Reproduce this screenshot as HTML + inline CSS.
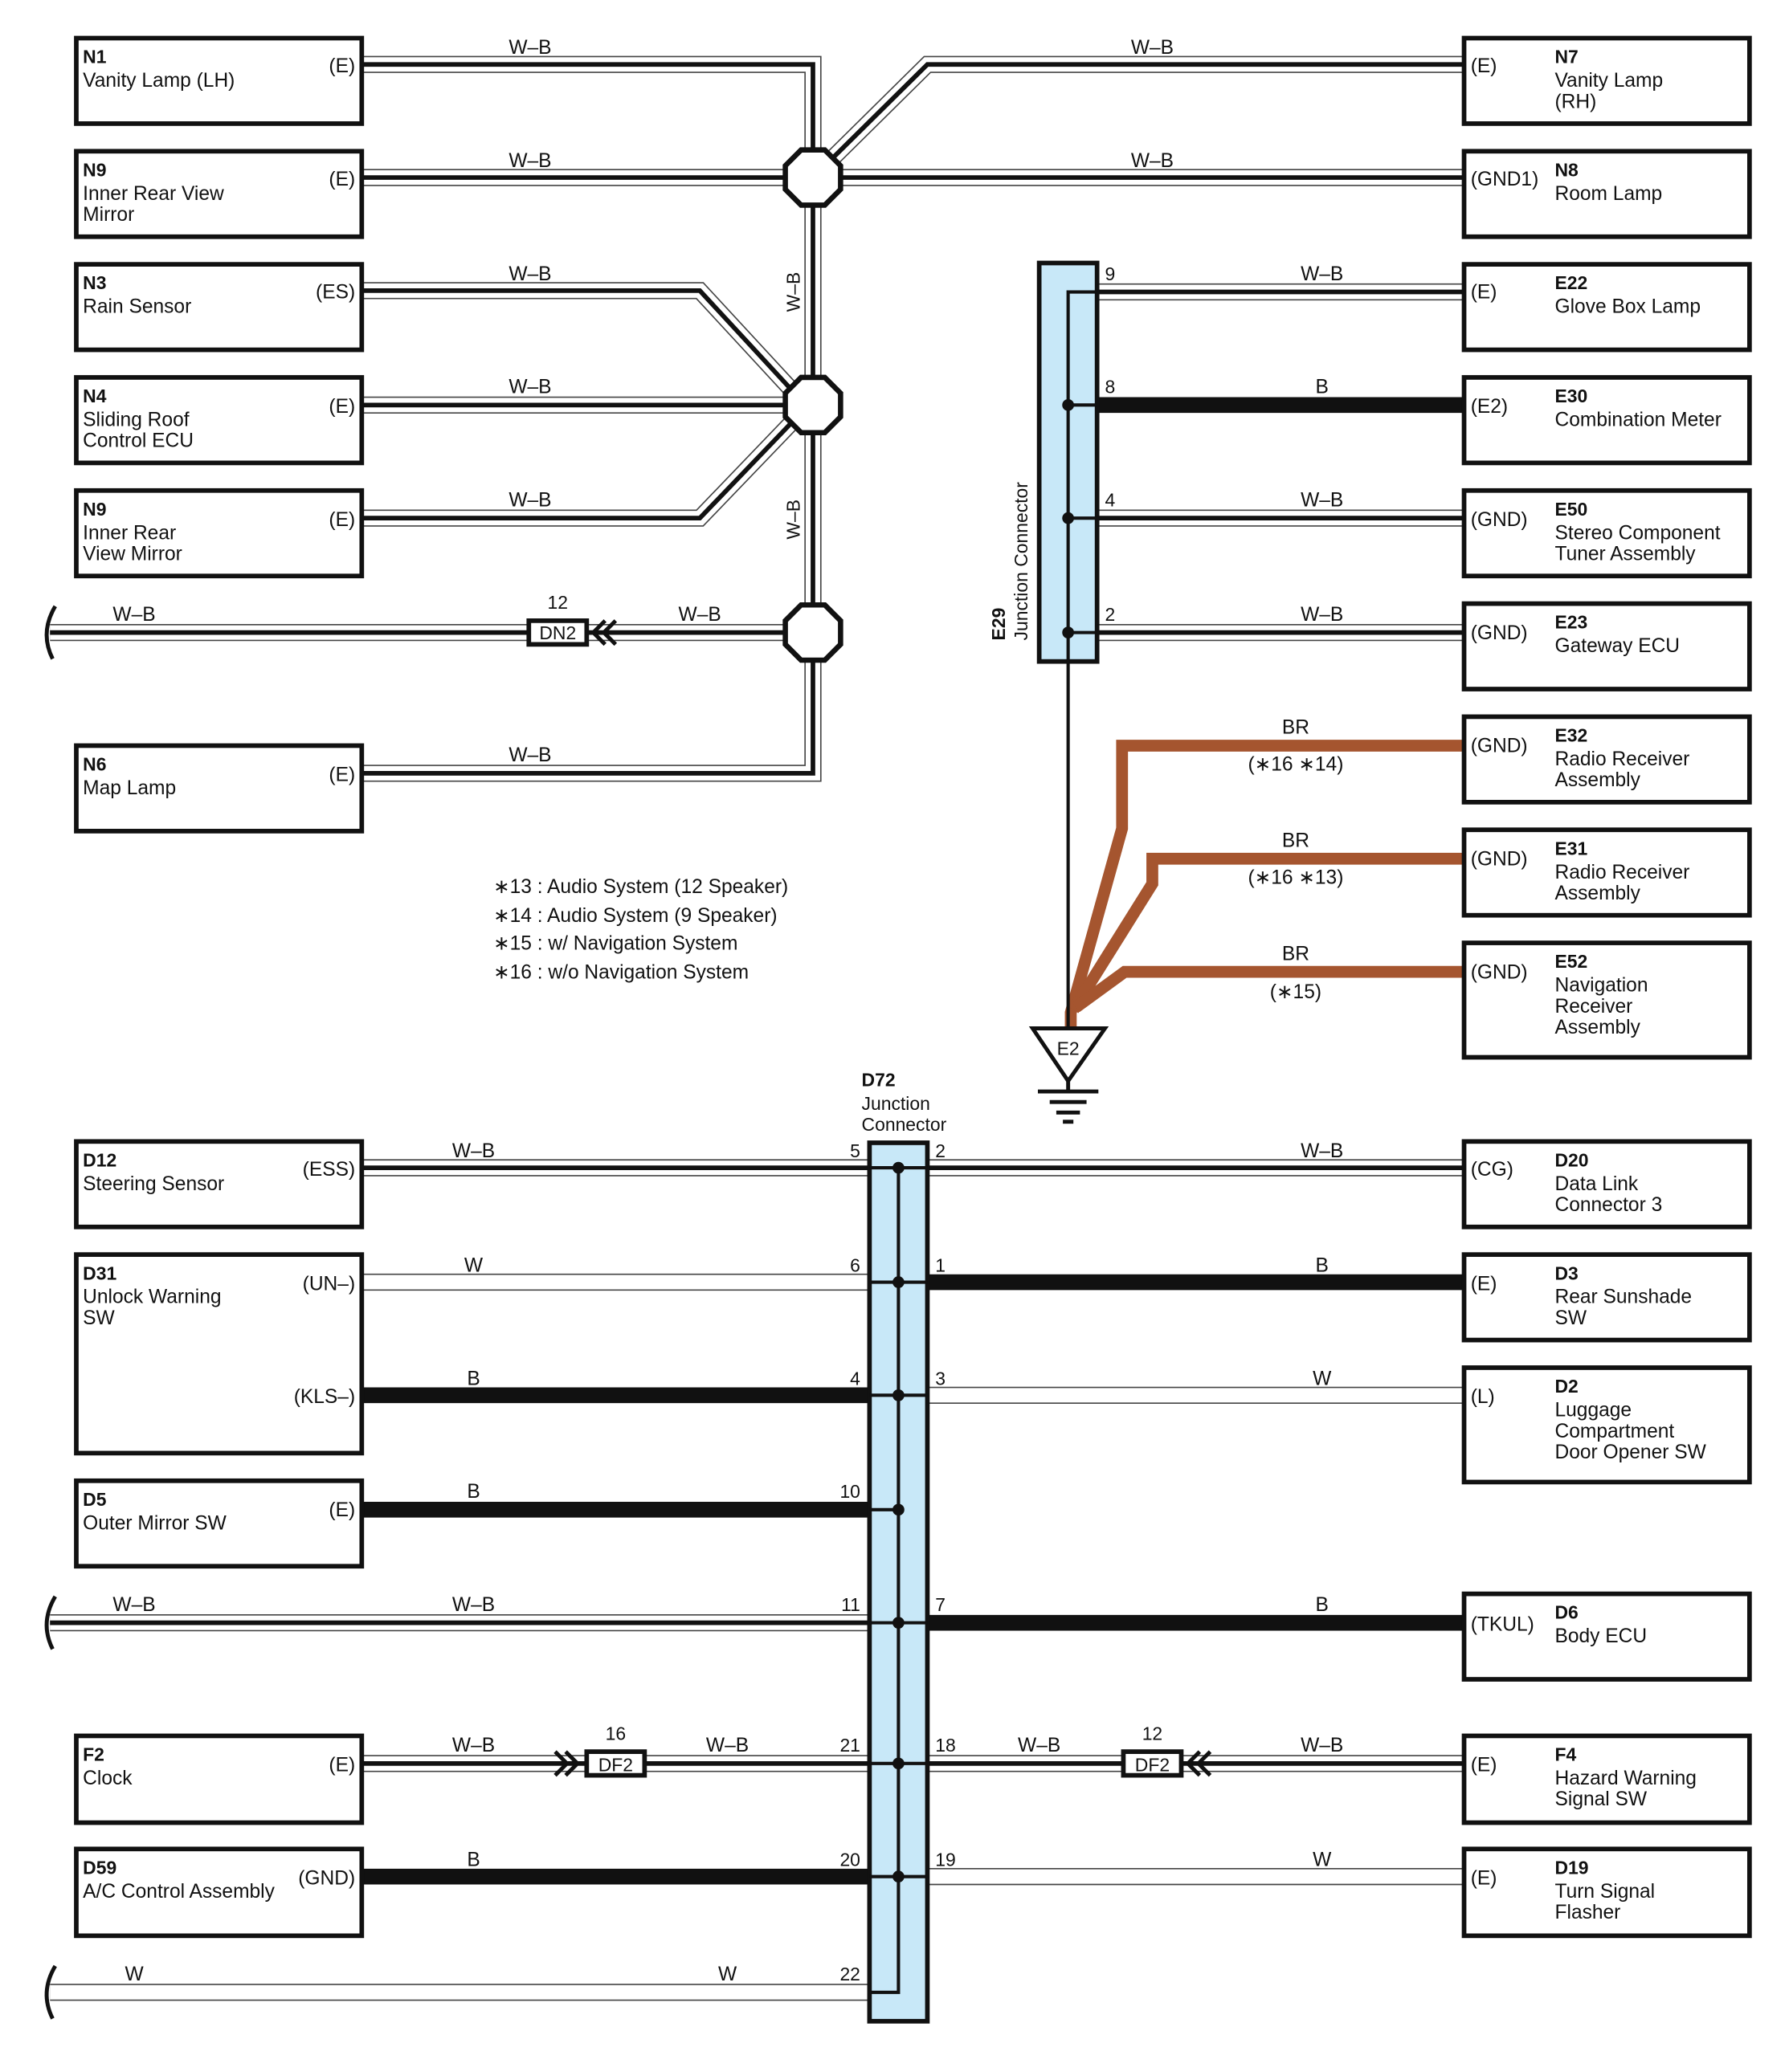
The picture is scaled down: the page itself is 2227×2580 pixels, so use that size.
<!DOCTYPE html>
<html><head><meta charset="utf-8"><style>
html,body{margin:0;padding:0;background:#fff}
svg{display:block}
text{font-family:"Liberation Sans",Arial,sans-serif;font-size:15px;fill:#111}
.b{font-weight:bold}
.m{text-anchor:middle}
.e{text-anchor:end}
.s{font-size:14px}
</style></head><body>
<svg width="2227" height="2580" viewBox="0 0 1360 1575.6" xmlns="http://www.w3.org/2000/svg">
<defs>
<g id="dummy"></g>
</defs>
<g fill="none" stroke-linejoin="miter">
<!-- W-B wires: outer -->
<g stroke="#444" stroke-width="13">
<polyline points="275,49 618,49 618,588 275,588"/>
<polyline points="275,135 618,135"/>
<polyline points="275,221 532,221 605,300"/>
<polyline points="275,308 618,308"/>
<polyline points="275,394 532,394 605,318"/>
<polyline points="618,135 705,49 1113,49"/>
<polyline points="618,135 1113,135"/>
<polyline points="38,481 618,481"/>
<polyline points="834,222 1113,222"/>
<polyline points="834,394 1113,394"/>
<polyline points="834,481 1113,481"/>
<polyline points="275,888 661,888"/>
<polyline points="705,888 1113,888"/>
<polyline points="38,1234 661,1234"/>
<polyline points="275,1341 661,1341"/>
<polyline points="705,1341 1113,1341"/>
<polyline points="275,975 661,975"/>
<polyline points="705,1061 1113,1061"/>
<polyline points="705,1427 1113,1427"/>
<polyline points="38,1515 661,1515"/>
</g>
<g stroke="#fff" stroke-width="11">
<polyline points="275,49 618,49 618,588 275,588"/>
<polyline points="275,135 618,135"/>
<polyline points="275,221 532,221 605,300"/>
<polyline points="275,308 618,308"/>
<polyline points="275,394 532,394 605,318"/>
<polyline points="618,135 705,49 1113,49"/>
<polyline points="618,135 1113,135"/>
<polyline points="38,481 618,481"/>
<polyline points="834,222 1113,222"/>
<polyline points="834,394 1113,394"/>
<polyline points="834,481 1113,481"/>
<polyline points="275,888 661,888"/>
<polyline points="705,888 1113,888"/>
<polyline points="38,1234 661,1234"/>
<polyline points="275,1341 661,1341"/>
<polyline points="705,1341 1113,1341"/>
<polyline points="275,975 661,975"/>
<polyline points="705,1061 1113,1061"/>
<polyline points="705,1427 1113,1427"/>
<polyline points="38,1515 661,1515"/>
</g>
<g stroke="#111" stroke-width="3.5">
<polyline points="275,49 618,49 618,588 275,588"/>
<polyline points="275,135 618,135"/>
<polyline points="275,221 532,221 605,300"/>
<polyline points="275,308 618,308"/>
<polyline points="275,394 532,394 605,318"/>
<polyline points="618,135 705,49 1113,49"/>
<polyline points="618,135 1113,135"/>
<polyline points="38,481 618,481"/>
<polyline points="834,222 1113,222"/>
<polyline points="834,394 1113,394"/>
<polyline points="834,481 1113,481"/>
<polyline points="275,888 661,888"/>
<polyline points="705,888 1113,888"/>
<polyline points="38,1234 661,1234"/>
<polyline points="275,1341 661,1341"/>
<polyline points="705,1341 1113,1341"/>
</g>
<!-- B wires -->
<g stroke="#111" stroke-width="12">
<line x1="834" y1="308" x2="1113" y2="308"/>
<line x1="275" y1="1061" x2="661" y2="1061"/>
<line x1="275" y1="1148" x2="661" y2="1148"/>
<line x1="275" y1="1427" x2="661" y2="1427"/>
<line x1="705" y1="975" x2="1113" y2="975"/>
<line x1="705" y1="1234" x2="1113" y2="1234"/>
</g>
<!-- BR wires -->
<g stroke="#a5552f" stroke-width="9">
<polyline points="1113,567 853,567 853,630 814,770 814,782"/>
<polyline points="1113,653 876,653 876,672 816,768"/>
<polyline points="1113,739 855,739 818,766"/>
</g>
<!-- squiggles -->
<g stroke="#111" stroke-width="3">
<path d="M42,461 Q30,481 40,501"/>
<path d="M42,1214 Q30,1234 40,1254"/>
<path d="M42,1495 Q30,1515 40,1535"/>
</g>
<!-- boxes -->
<g stroke="#111" stroke-width="3.5" fill="#fff">
<rect x="58" y="29" width="217" height="65"/>
<rect x="58" y="115" width="217" height="65"/>
<rect x="58" y="201" width="217" height="65"/>
<rect x="58" y="287" width="217" height="65"/>
<rect x="58" y="373" width="217" height="65"/>
<rect x="58" y="567" width="217" height="65"/>
<rect x="1113" y="29" width="217" height="65"/>
<rect x="1113" y="115" width="217" height="65"/>
<rect x="1113" y="201" width="217" height="65"/>
<rect x="1113" y="287" width="217" height="65"/>
<rect x="1113" y="373" width="217" height="65"/>
<rect x="1113" y="459" width="217" height="65"/>
<rect x="1113" y="545" width="217" height="65"/>
<rect x="1113" y="631" width="217" height="65"/>
<rect x="1113" y="717" width="217" height="87"/>
<rect x="58" y="868" width="217" height="65"/>
<rect x="58" y="954" width="217" height="151"/>
<rect x="58" y="1126" width="217" height="65"/>
<rect x="58" y="1320" width="217" height="66"/>
<rect x="58" y="1406" width="217" height="66"/>
<rect x="1113" y="868" width="217" height="65"/>
<rect x="1113" y="954" width="217" height="65"/>
<rect x="1113" y="1040" width="217" height="87"/>
<rect x="1113" y="1212" width="217" height="65"/>
<rect x="1113" y="1320" width="217" height="66"/>
<rect x="1113" y="1406" width="217" height="66"/>
<!-- connectors -->
<rect x="402" y="472" width="44" height="18"/>
<rect x="446" y="1332" width="44" height="18"/>
<rect x="854" y="1332" width="44" height="18"/>
</g>
<!-- chevrons -->
<g stroke="#111" stroke-width="3">
<polyline points="460,472 451,481 460,490"/><polyline points="468,472 459,481 468,490"/>
<polyline points="422,1332 431,1341 422,1350"/><polyline points="430,1332 439,1341 430,1350"/>
<polyline points="912,1332 903,1341 912,1350"/><polyline points="920,1332 911,1341 920,1350"/>
</g>
<!-- octagons -->
<g stroke="#111" stroke-width="4" fill="#fff">
<polygon points="627,114 639,126 639,144 627,156 609,156 597,144 597,126 609,114"/>
<polygon points="627,287 639,299 639,317 627,329 609,329 597,317 597,299 609,287"/>
<polygon points="627,460 639,472 639,490 627,502 609,502 597,490 597,472 609,460"/>
</g>
<!-- E29 -->
<rect x="790" y="200" width="44" height="303" fill="#c8e8f8" stroke="#111" stroke-width="3.5"/>
<g stroke="#111" stroke-width="2.5">
<polyline points="834,222 812,222 812,782"/>
<line x1="812" y1="308" x2="834" y2="308"/>
<line x1="812" y1="394" x2="834" y2="394"/>
<line x1="812" y1="481" x2="834" y2="481"/>
</g>
<g fill="#111"><circle cx="812" cy="308" r="4.5"/><circle cx="812" cy="394" r="4.5"/><circle cx="812" cy="481" r="4.5"/></g>
<!-- ground -->
<polygon points="785,782 840,782 812,822" fill="#fff" stroke="#111" stroke-width="3"/>
<g stroke="#111" stroke-width="3">
<line x1="812" y1="822" x2="812" y2="830"/>
<line x1="789" y1="830" x2="835" y2="830"/>
<line x1="798" y1="838" x2="826" y2="838"/>
<line x1="803" y1="846" x2="821" y2="846"/>
<line x1="808" y1="853" x2="816" y2="853"/>
</g>
<!-- D72 -->
<rect x="661" y="869" width="44" height="668" fill="#c8e8f8" stroke="#111" stroke-width="3.5"/>
<g stroke="#111" stroke-width="2.5">
<polyline points="683,888 683,1515 661,1515"/>
<line x1="661" y1="888" x2="705" y2="888"/>
<line x1="661" y1="975" x2="705" y2="975"/>
<line x1="661" y1="1061" x2="705" y2="1061"/>
<line x1="661" y1="1148" x2="683" y2="1148"/>
<line x1="661" y1="1234" x2="705" y2="1234"/>
<line x1="661" y1="1341" x2="705" y2="1341"/>
<line x1="661" y1="1427" x2="705" y2="1427"/>
</g>
<g fill="#111">
<circle cx="683" cy="888" r="4.5"/><circle cx="683" cy="975" r="4.5"/><circle cx="683" cy="1061" r="4.5"/><circle cx="683" cy="1148" r="4.5"/><circle cx="683" cy="1234" r="4.5"/><circle cx="683" cy="1341" r="4.5"/><circle cx="683" cy="1427" r="4.5"/>
</g>
</g>

<!-- box texts left -->
<text x="63" y="48" class="b s">N1</text><text x="63" y="66">Vanity Lamp (LH)</text><text x="270" y="55" class="e">(E)</text>
<text x="63" y="134" class="b s">N9</text><text x="63" y="152">Inner Rear View</text><text x="63" y="168">Mirror</text><text x="270" y="141" class="e">(E)</text>
<text x="63" y="220" class="b s">N3</text><text x="63" y="238">Rain Sensor</text><text x="270" y="227" class="e">(ES)</text>
<text x="63" y="306" class="b s">N4</text><text x="63" y="324">Sliding Roof</text><text x="63" y="340">Control ECU</text><text x="270" y="314" class="e">(E)</text>
<text x="63" y="392" class="b s">N9</text><text x="63" y="410">Inner Rear</text><text x="63" y="426">View Mirror</text><text x="270" y="400" class="e">(E)</text>
<text x="63" y="586" class="b s">N6</text><text x="63" y="604">Map Lamp</text><text x="270" y="594" class="e">(E)</text>
<!-- right top -->
<text x="1118" y="55">(E)</text><text x="1182" y="48" class="b s">N7</text><text x="1182" y="66">Vanity Lamp</text><text x="1182" y="82">(RH)</text>
<text x="1118" y="141">(GND1)</text><text x="1182" y="134" class="b s">N8</text><text x="1182" y="152">Room Lamp</text>
<text x="1118" y="227">(E)</text><text x="1182" y="220" class="b s">E22</text><text x="1182" y="238">Glove Box Lamp</text>
<text x="1118" y="314">(E2)</text><text x="1182" y="306" class="b s">E30</text><text x="1182" y="324">Combination Meter</text>
<text x="1118" y="400">(GND)</text><text x="1182" y="392" class="b s">E50</text><text x="1182" y="410">Stereo Component</text><text x="1182" y="426">Tuner Assembly</text>
<text x="1118" y="486">(GND)</text><text x="1182" y="478" class="b s">E23</text><text x="1182" y="496">Gateway ECU</text>
<text x="1118" y="572">(GND)</text><text x="1182" y="564" class="b s">E32</text><text x="1182" y="582">Radio Receiver</text><text x="1182" y="598">Assembly</text>
<text x="1118" y="658">(GND)</text><text x="1182" y="650" class="b s">E31</text><text x="1182" y="668">Radio Receiver</text><text x="1182" y="684">Assembly</text>
<text x="1118" y="744">(GND)</text><text x="1182" y="736" class="b s">E52</text><text x="1182" y="754">Navigation</text><text x="1182" y="770">Receiver</text><text x="1182" y="786">Assembly</text>
<!-- bottom left -->
<text x="63" y="887" class="b s">D12</text><text x="63" y="905">Steering Sensor</text><text x="270" y="894" class="e">(ESS)</text>
<text x="63" y="973" class="b s">D31</text><text x="63" y="991">Unlock Warning</text><text x="63" y="1007">SW</text><text x="270" y="981" class="e">(UN–)</text><text x="270" y="1067" class="e">(KLS–)</text>
<text x="63" y="1145" class="b s">D5</text><text x="63" y="1163">Outer Mirror SW</text><text x="270" y="1153" class="e">(E)</text>
<text x="63" y="1339" class="b s">F2</text><text x="63" y="1357">Clock</text><text x="270" y="1347" class="e">(E)</text>
<text x="63" y="1425" class="b s">D59</text><text x="63" y="1443">A/C Control Assembly</text><text x="270" y="1433" class="e">(GND)</text>
<!-- bottom right -->
<text x="1118" y="894">(CG)</text><text x="1182" y="887" class="b s">D20</text><text x="1182" y="905">Data Link</text><text x="1182" y="921">Connector 3</text>
<text x="1118" y="981">(E)</text><text x="1182" y="973" class="b s">D3</text><text x="1182" y="991">Rear Sunshade</text><text x="1182" y="1007">SW</text>
<text x="1118" y="1067">(L)</text><text x="1182" y="1059" class="b s">D2</text><text x="1182" y="1077">Luggage</text><text x="1182" y="1093">Compartment</text><text x="1182" y="1109">Door Opener SW</text>
<text x="1118" y="1240">(TKUL)</text><text x="1182" y="1231" class="b s">D6</text><text x="1182" y="1249">Body ECU</text>
<text x="1118" y="1347">(E)</text><text x="1182" y="1339" class="b s">F4</text><text x="1182" y="1357">Hazard Warning</text><text x="1182" y="1373">Signal SW</text>
<text x="1118" y="1433">(E)</text><text x="1182" y="1425" class="b s">D19</text><text x="1182" y="1443">Turn Signal</text><text x="1182" y="1459">Flasher</text>

<!-- wire labels -->
<g class="m">
<text x="403" y="41" class="m">W–B</text><text x="403" y="127" class="m">W–B</text><text x="403" y="213" class="m">W–B</text>
<text x="403" y="299" class="m">W–B</text><text x="403" y="385" class="m">W–B</text><text x="403" y="579" class="m">W–B</text>
<text x="102" y="472" class="m">W–B</text><text x="532" y="472" class="m">W–B</text><text x="424" y="463" class="m s">12</text>
<text x="876" y="41" class="m">W–B</text><text x="876" y="127" class="m">W–B</text>
<text x="1005" y="213" class="m">W–B</text><text x="1005" y="299" class="m">B</text><text x="1005" y="385" class="m">W–B</text><text x="1005" y="472" class="m">W–B</text>
<text x="985" y="558" class="m">BR</text><text x="985" y="586" class="m">(∗16 ∗14)</text>
<text x="985" y="644" class="m">BR</text><text x="985" y="672" class="m">(∗16 ∗13)</text>
<text x="985" y="730" class="m">BR</text><text x="985" y="759" class="m">(∗15)</text>
<text x="424" y="486" class="m s">DN2</text>
<text x="812" y="802" class="m s">E2</text>
<text x="360" y="880" class="m">W–B</text><text x="360" y="967" class="m">W</text><text x="360" y="1053" class="m">B</text><text x="360" y="1139" class="m">B</text>
<text x="102" y="1225" class="m">W–B</text><text x="360" y="1225" class="m">W–B</text>
<text x="360" y="1332" class="m">W–B</text><text x="553" y="1332" class="m">W–B</text><text x="468" y="1323" class="m s">16</text><text x="468" y="1347" class="m s">DF2</text>
<text x="360" y="1419" class="m">B</text>
<text x="102" y="1506" class="m">W</text><text x="553" y="1506" class="m">W</text>
<text x="1005" y="880" class="m">W–B</text><text x="1005" y="967" class="m">B</text><text x="1005" y="1053" class="m">W</text><text x="1005" y="1225" class="m">B</text>
<text x="790" y="1332" class="m">W–B</text><text x="1005" y="1332" class="m">W–B</text><text x="876" y="1323" class="m s">12</text><text x="876" y="1347" class="m s">DF2</text>
<text x="1005" y="1419" class="m">W</text>
</g>
<!-- vertical labels -->
<text transform="translate(608,222) rotate(-90)" class="m s">W–B</text>
<text transform="translate(608,395) rotate(-90)" class="m s">W–B</text>
<text transform="translate(764,487) rotate(-90)" class="b s">E29</text>
<text transform="translate(781,487) rotate(-90)" class="s">Junction Connector</text>
<!-- pin numbers E29 -->
<text x="840" y="213" class="s">9</text><text x="840" y="299" class="s">8</text><text x="840" y="385" class="s">4</text><text x="840" y="472" class="s">2</text>
<!-- D72 label -->
<text x="655" y="826" class="b s">D72</text><text x="655" y="844" class="s">Junction</text><text x="655" y="860" class="s">Connector</text>
<!-- D72 pins -->
<g class="s">
<text x="654" y="880" class="e s">5</text><text x="654" y="967" class="e s">6</text><text x="654" y="1053" class="e s">4</text><text x="654" y="1139" class="e s">10</text><text x="654" y="1225" class="e s">11</text><text x="654" y="1332" class="e s">21</text><text x="654" y="1419" class="e s">20</text><text x="654" y="1506" class="e s">22</text>
<text x="711" y="880" class="s">2</text><text x="711" y="967" class="s">1</text><text x="711" y="1053" class="s">3</text><text x="711" y="1225" class="s">7</text><text x="711" y="1332" class="s">18</text><text x="711" y="1419" class="s">19</text>
</g>
<!-- notes -->
<text x="375" y="679">∗13 : Audio System (12 Speaker)</text>
<text x="375" y="701">∗14 : Audio System (9 Speaker)</text>
<text x="375" y="722">∗15 : w/ Navigation System</text>
<text x="375" y="744">∗16 : w/o Navigation System</text>
</svg>
</body></html>
